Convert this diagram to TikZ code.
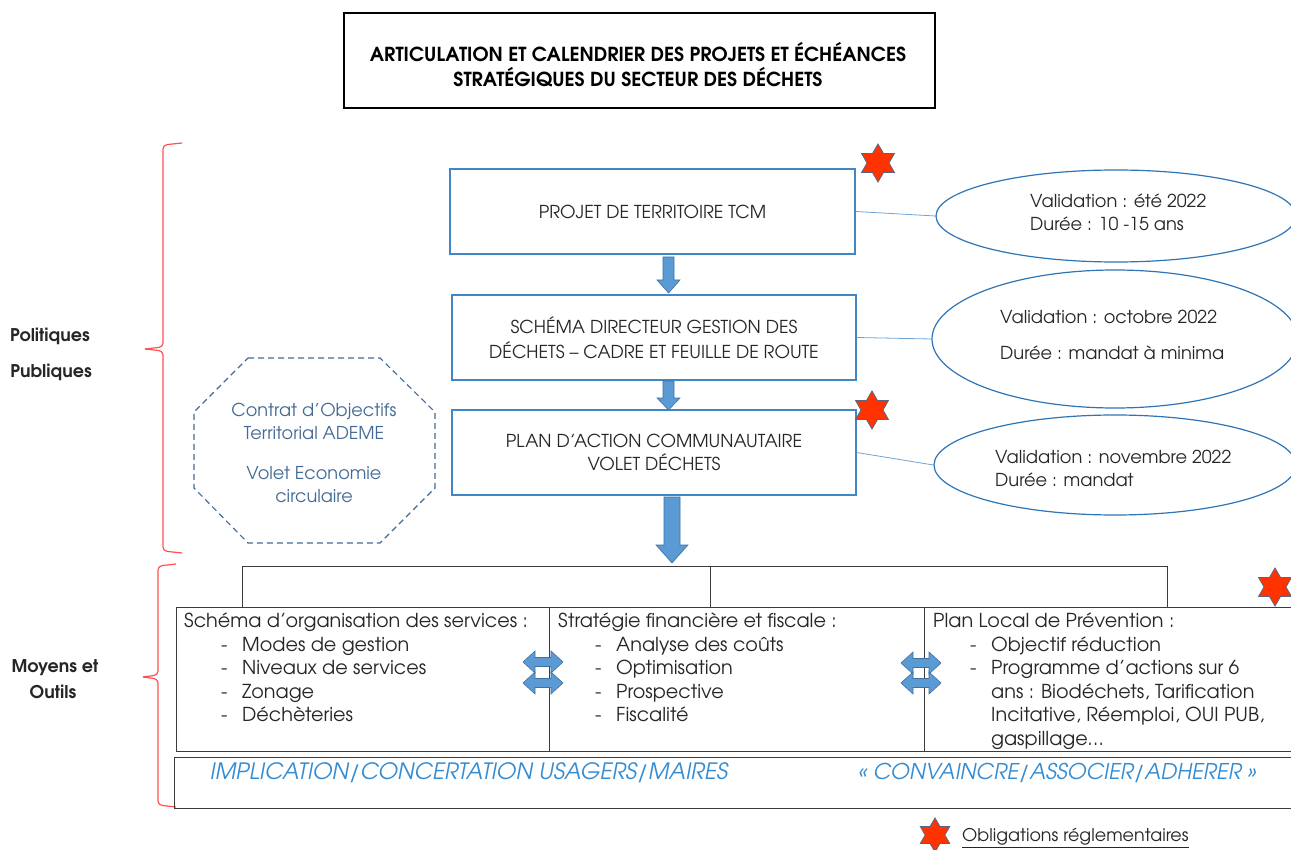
\documentclass[tikz,border=0pt]{standalone}
\usepackage{fontspec}
\setmainfont{texgyreadventor}[Extension=.otf,UprightFont=*-regular,BoldFont=*-bold,ItalicFont=*-italic,BoldItalicFont=*-bolditalic]
\usetikzlibrary{shapes.geometric}
\definecolor{boxblue}{RGB}{65,135,200}
\definecolor{ellblue}{RGB}{46,117,182}
\definecolor{connblue}{RGB}{110,165,215}
\definecolor{arrfill}{RGB}{91,155,213}
\definecolor{arrdraw}{RGB}{65,113,156}
\definecolor{starred}{RGB}{255,51,0}
\definecolor{stardraw}{RGB}{90,100,130}
\definecolor{bracered}{RGB}{255,80,80}
\definecolor{octblue}{RGB}{68,106,150}
\definecolor{italblue}{RGB}{52,140,210}
\definecolor{txt}{RGB}{38,38,38}
\definecolor{tabline}{RGB}{60,60,60}
\newcommand\titem[1]{\makebox[58pt][l]{\hspace*{37pt}-}#1}
\newcommand\tcont[1]{\hspace*{58pt}#1}
\newcommand\blkarrow[6]{% x, ytop, ybot, shaft hw, head hw, head len
  \filldraw[arrowstyle] ({#1-#4},#2) -- ({#1+#4},#2) -- ({#1+#4},{#3-#6}) -- ({#1+#5},{#3-#6}) -- (#1,#3) -- ({#1-#5},{#3-#6}) -- ({#1-#4},{#3-#6}) -- cycle;}
\newcommand\dblarrow[2]{% cx, cy
  \filldraw[arrowstyle] ({#1-20},#2) -- ({#1-8},{#2-11}) -- ({#1-8},{#2-4.5}) -- ({#1+8},{#2-4.5}) -- ({#1+8},{#2-11}) -- ({#1+20},#2) -- ({#1+8},{#2+11}) -- ({#1+8},{#2+4.5}) -- ({#1-8},{#2+4.5}) -- ({#1-8},{#2+11}) -- cycle;}
\begin{document}
\begin{tikzpicture}[x=1pt,y=-1pt,
  every node/.style={text=txt},
  bluebox/.style={draw=boxblue, line width=1.3pt, inner sep=0pt, font=\fontsize{17.8}{24}\selectfont, align=center},
  ellnode/.style={ellipse, draw=ellblue, line width=1.2pt, inner sep=0pt},
  elltext/.style={anchor=west, align=left, inner sep=0pt, font=\fontsize{17.8}{23}\selectfont},
  conn/.style={draw=connblue, line width=0.8pt},
  arrowstyle/.style={fill=arrfill, draw=arrdraw, line width=0.6pt},
  hexstar/.style={star, star points=6, star point ratio=1.73, fill=starred, draw=stardraw, line width=0.8pt, minimum size=38pt, inner sep=0pt, shape border rotate=0},
  brace/.style={draw=bracered, line width=1.2pt, rounded corners=4pt},
  tabcell/.style={draw=tabline, line width=1pt, inner sep=0pt, anchor=north west},
  tabtext/.style={anchor=north west, align=left, inner sep=0pt, font=\fontsize{19.2}{23.6}\selectfont},
  sidelabel/.style={font=\bfseries\fontsize{17.5}{20}\selectfont, inner sep=0pt},
  treeline/.style={draw=tabline, line width=1pt}
]
\clip (0,0) rectangle (1291,850);
\fill[white] (0,0) rectangle (1291,850);

% title
\node[draw=black, line width=1.6pt, minimum width=591pt, minimum height=95pt, inner sep=0pt, anchor=north west] (title) at (343,12) {};
\node[font=\bfseries\fontsize{19.3}{25}\selectfont, align=center, text=black] (titletext) at (638,64.5) {ARTICULATION ET CALENDRIER DES PROJETS ET ÉCHÉANCES\\STRATÉGIQUES DU SECTEUR DES DÉCHETS};

% braces
\draw[brace] (182,143) -- (163,145) -- (163,347) -- (145,349);
\draw[brace] (145,349) -- (163,351) -- (163,551) -- (182,553);
\draw[brace] (176,564) -- (158,566) -- (158,675) -- (143,677);
\draw[brace] (143,677) -- (158,679) -- (158,805) -- (176,807);
\node[sidelabel] (pol1) at (50,336) {Politiques};
\node[sidelabel] (pol2) at (51,372) {Publiques};
\node[sidelabel] (moy1) at (55,668) {Moyens et};
\node[sidelabel] (moy2) at (53,692) {Outils};

% main boxes
\node[bluebox, minimum width=405pt, minimum height=85pt] (b1) at (652.5,211.5) {PROJET DE TERRITOIRE TCM};
\node[bluebox, minimum width=404pt, minimum height=85pt, font=\fontsize{17.8}{25}\selectfont] (b2) at (654,337.5) {SCHÉMA DIRECTEUR GESTION DES\\DÉCHETS – CADRE ET FEUILLE DE ROUTE};
\node[bluebox, minimum width=404pt, minimum height=85pt, font=\fontsize{17.8}{23}\selectfont] (b3) at (654,452.5) {PLAN D’ACTION COMMUNAUTAIRE\\VOLET DÉCHETS};

% block arrows
\blkarrow{668.5}{257}{293}{5.5}{11.5}{13}
\blkarrow{668.5}{381}{410}{5.5}{11.5}{12}
\blkarrow{672}{497}{563}{8}{16}{18}

% ellipses
\node[ellnode, minimum width=360pt, minimum height=92pt] (e1) at (1116,216) {};
\node[ellnode, minimum width=366pt, minimum height=138pt] (e2) at (1115,339) {};
\node[ellnode, minimum width=362pt, minimum height=100pt] (e3) at (1115,465) {};
\node[elltext] (t1) at (1030,212.5) {Validation : été 2022\\Durée : 10 -15 ans};
\node[elltext, font=\fontsize{17.8}{36}\selectfont] (t2) at (1000,335) {Validation : octobre 2022\\Durée : mandat à minima};
\node[elltext] (t3) at (995,468.5) {Validation : novembre 2022\\Durée : mandat};
\draw[conn] (b1.east) -- (e1.west);
\draw[conn] (b2.east) -- (e2.west);
\draw[conn] (b3.east) -- (e3.west);

% stars
\node[hexstar] (s1) at (878,163) {};
\node[hexstar] (s2) at (872,410) {};
\node[hexstar] (s3) at (1275,587) {};
\node[hexstar, minimum size=34pt] (s4) at (935,835) {};

% octagon
\draw[draw=octblue, line width=1.1pt, dash pattern=on 6pt off 4pt] (248,358) -- (380,358) -- (435,412) -- (435,488) -- (380,543) -- (248,543) -- (194,488) -- (194,412) -- cycle;
\node[align=center, text=octblue, font=\fontsize{17.7}{23}\selectfont] (oct) at (314,453) {Contrat d’Objectifs\\Territorial ADEME\\[17pt]Volet Economie\\circulaire};

% tree connector
\coordinate (hubL) at (242,566);
\coordinate (hubM) at (710,566);
\coordinate (hubR) at (1167,566);
\draw[treeline] (hubL) -- (hubR);
\draw[treeline] (hubL) -- (242,607);
\draw[treeline] (hubM) -- (710,607);
\draw[treeline] (hubR) -- (1167,607);

% table
\node[tabcell, minimum width=373pt, minimum height=144pt] (c1) at (176,607) {};
\node[tabcell, minimum width=375pt, minimum height=144pt] (c2) at (549,607) {};
\node[tabcell, minimum width=380pt, minimum height=144pt] (c3) at (924,607) {};
\node[tabtext] (c1t) at (184,612.5) {Schéma d’organisation des services :\\\titem{Modes de gestion}\\\titem{Niveaux de services}\\\titem{Zonage}\\\titem{Déchèteries}};
\node[tabtext] (c2t) at (558,612.5) {Stratégie financière et fiscale :\\\titem{Analyse des coûts}\\\titem{Optimisation}\\\titem{Prospective}\\\titem{Fiscalité}};
\node[tabtext] (c3t) at (933,612.5) {Plan Local de Prévention :\\\titem{Objectif réduction}\\\titem{Programme d’actions sur 6}\\\tcont{ans : Biodéchets, Tarification}\\\tcont{Incitative, Réemploi, OUI PUB,}\\\tcont{gaspillage…}};

% double arrows
\dblarrow{543}{662}
\dblarrow{543}{683}
\dblarrow{921}{663}
\dblarrow{921}{683}

% bottom box
\node[tabcell, minimum width=1125pt, minimum height=51pt] (bot) at (174,757) {};
\node[anchor=west, inner sep=0pt, text=italblue, font=\itshape\fontsize{22.5}{26}\selectfont] (imp) at (210,773) {IMPLICATION/CONCERTATION USAGERS/MAIRES};
\node[anchor=west, inner sep=0pt, text=italblue, font=\itshape\fontsize{21.7}{26}\selectfont] (conv) at (858,773) {« CONVAINCRE/ASSOCIER/ADHERER »};

% legend
\node[anchor=west, inner sep=0pt, font=\fontsize{17.5}{20}\selectfont] (leg) at (962,838) {\underline{Obligations réglementaires}};
\end{tikzpicture}
\end{document}
